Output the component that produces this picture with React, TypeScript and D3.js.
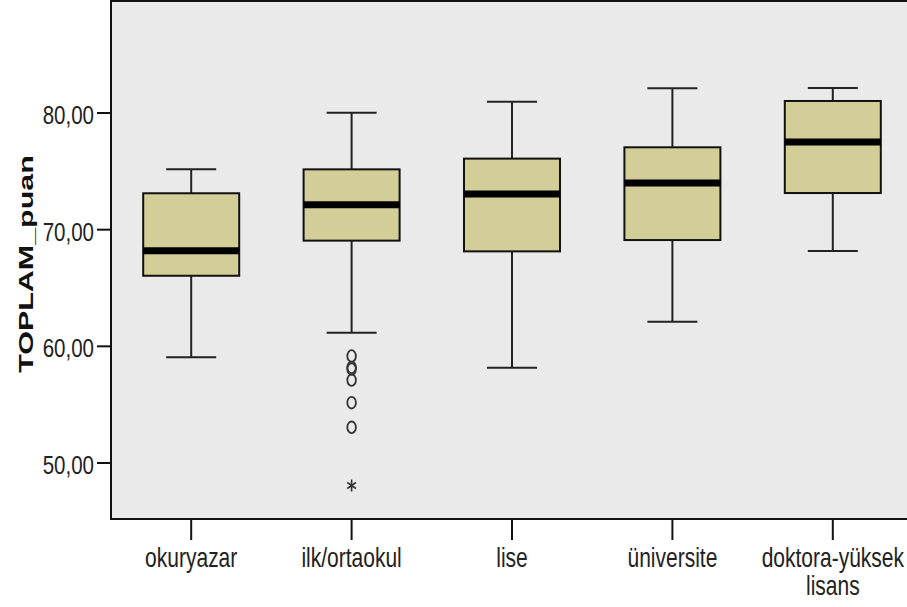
import React from "react";
import * as d3 from "d3";

const categories = ["okuryazar", "ilk/ortaokul", "lise", "üniversite", "doktora-yüksek\nlisans"];
const whiskerLow = [59.06, 61.17, 58.17, 62.11, 68.17];
const q1 = [66.05, 69.06, 68.14, 69.11, 73.14];
const medians = [68.2, 72.14, 73.06, 74.0, 77.51];
const q3 = [73.12, 75.17, 76.09, 77.06, 81.03];
const whiskerHigh = [75.17, 80.03, 80.97, 82.12, 82.14];
const outlierCat = ["ilk/ortaokul", "ilk/ortaokul", "ilk/ortaokul", "ilk/ortaokul", "ilk/ortaokul", "ilk/ortaokul"];
const outlierVals = [59.17, 58.2, 58.05, 57.11, 55.17, 53.06];
const extremeCat = ["ilk/ortaokul"];
const extremeVals = [48.07];
const yTicks = [50, 60, 70, 80];
const yLabel = "TOPLAM_puan";

const W = 907, H = 607;
const left = 111, right = 913, top = 1, bottom = 519;
const SY = 1.3;

export default function App() {
  const x = d3.scalePoint<string>().domain(categories).range([left, right]).padding(0.5);
  const y = d3.scaleLinear().domain([45.2, 89.6]).range([bottom, top]);
  const boxW = 96, capW = 50;
  const fmt = (v: number) => v.toFixed(2).replace(".", ",");
  const font = "'Liberation Sans', Arial, sans-serif";
  const star = d3.symbol().type(d3.symbolAsterisk).size(70)();

  return (
    <svg width={W} height={H} style={{ position: "absolute", left: 0, top: 0 }} fontFamily={font}>
      <rect x={0} y={0} width={W} height={H} fill="#ffffff" />
      <rect x={left} y={top} width={right - left} height={bottom - top} fill="#eaeaea" stroke="#111" strokeWidth={2} />
      {categories.map((c, i) => {
        const cx = x(c)!;
        return (
          <g key={c}>
            <line x1={cx} x2={cx} y1={y(whiskerHigh[i])} y2={y(q3[i])} stroke="#222" strokeWidth={2} />
            <line x1={cx} x2={cx} y1={y(q1[i])} y2={y(whiskerLow[i])} stroke="#222" strokeWidth={2} />
            <line x1={cx - capW / 2} x2={cx + capW / 2} y1={y(whiskerHigh[i])} y2={y(whiskerHigh[i])} stroke="#222" strokeWidth={2} />
            <line x1={cx - capW / 2} x2={cx + capW / 2} y1={y(whiskerLow[i])} y2={y(whiskerLow[i])} stroke="#222" strokeWidth={2} />
            <rect x={cx - boxW / 2} y={y(q3[i])} width={boxW} height={y(q1[i]) - y(q3[i])} fill="#d3ce97" stroke="#111" strokeWidth={2} />
            <line x1={cx - boxW / 2} x2={cx + boxW / 2} y1={y(medians[i])} y2={y(medians[i])} stroke="#000" strokeWidth={7} />
          </g>
        );
      })}
      {outlierVals.map((v, i) => (
        <ellipse key={"o" + i} cx={x(outlierCat[i])!} cy={y(v)} rx={4.3} ry={5.8} fill="none" stroke="#333" strokeWidth={1.8} />
      ))}
      {extremeVals.map((v, i) => (
        <path key={"e" + i} d={star!} transform={`translate(${x(extremeCat[i])!},${y(v)}) scale(1,1.2)`} fill="none" stroke="#333" strokeWidth={1.6} />
      ))}
      {yTicks.map((t) => (
        <g key={t}>
          <line x1={97} x2={left} y1={y(t)} y2={y(t)} stroke="#111" strokeWidth={2} />
          <g transform={`translate(94,${y(t) + 11}) scale(1,${SY})`}>
            <text x={0} y={0} textAnchor="end" fontSize={20.5} fill="#222">{fmt(t)}</text>
          </g>
        </g>
      ))}
      {categories.map((c) => {
        const cx = x(c)!;
        const lines = c.split("\n");
        return (
          <g key={"x" + c}>
            <line x1={cx} x2={cx} y1={bottom} y2={540} stroke="#111" strokeWidth={2} />
            {lines.map((ln, j) => (
              <g key={j} transform={`translate(${cx},${567 + j * 28}) scale(1,${SY})`}>
                <text x={0} y={0} textAnchor="middle" fontSize={21} fill="#222">{ln}</text>
              </g>
            ))}
          </g>
        );
      })}
      <g transform={`translate(33,264) rotate(-90) scale(1.45,1)`}>
        <text x={0} y={0} textAnchor="middle" fontSize={21} fontWeight="bold" fill="#111">{yLabel}</text>
      </g>
    </svg>
  );
}
